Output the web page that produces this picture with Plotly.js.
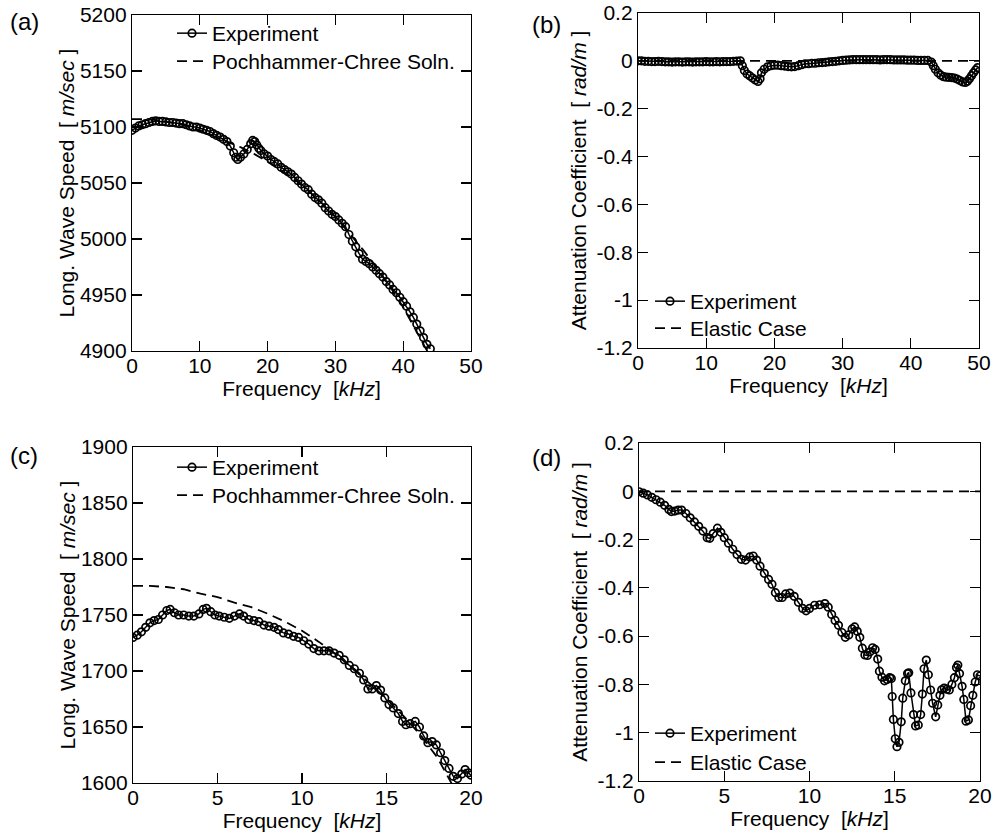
<!DOCTYPE html>
<html>
<head>
<meta charset="utf-8">
<script src="https://cdn.plot.ly/plotly-3.0.1.min.js"></script>
<style>html,body{margin:0;padding:0;background:#fff;}#chart{width:996px;height:837px;}</style>
</head>
<body>
<div id="chart"></div>
<script>
// ---------- Panel (a): steel-like bar, wave speed ----------
const aExpFreq = [0,0.5,1,1.5,2,2.5,3,3.5,4,4.5,5,5.5,6,6.5,7,7.5,8,8.5,9,9.5,10,10.5,11,11.5,12,12.5,13,13.5,14,14.5,15,15.3,15.6,16,16.5,17,17.5,17.8,18.1,18.4,18.7,19,19.5,20,20.5,21,21.5,22,22.5,23,23.5,24,24.5,25,25.5,26,26.5,27,27.5,28,28.5,29,29.5,30,30.5,31,31.5,32,32.5,33,33.5,34,34.5,35,35.5,36,36.5,37,37.5,38,38.5,39,39.5,40,40.5,41,41.5,42,42.5,43,43.5,44];
const aExpSpeed = [5097,5099,5101,5102,5103,5104,5105,5105.5,5105,5105,5104.5,5104,5104,5103.5,5103,5103,5102,5101,5100,5100,5099,5098,5097,5096,5094,5092.5,5091,5089,5087,5083,5077,5073,5071,5073,5076,5080,5085,5088,5087,5084,5081,5079,5076,5074,5071,5069,5067,5064,5062,5060,5058,5055,5052,5049,5046,5044,5040,5037,5035,5032,5028,5025,5022,5020,5017,5014,5011,5004,4998,4993,4987,4982,4980,4978,4975,4972,4969,4966,4962,4959,4955,4952,4948,4944,4940,4935,4930,4924,4918,4912,4906,4902];
const aPCFreq = [0,2,4,6,8,10,12,14,16,18,20,22,24,26,28,30,32,34,36,38,40,42,44];
const aPCSpeed = [5107,5107,5106,5104,5101,5097,5092,5087,5082,5076,5069,5061,5053,5043,5032,5020,5006,4991,4975,4958,4939,4917,4895];

// ---------- Panel (b): attenuation ----------
const bExpFreq = [0,0.5,1,1.5,2,2.5,3,3.5,4,4.5,5,5.5,6,6.5,7,7.5,8,8.5,9,9.5,10,10.5,11,11.5,12,12.5,13,13.5,14,14.5,15,15.3,15.6,16,16.4,16.8,17.2,17.6,17.9,18.1,18.5,19,19.5,20,20.5,21,21.5,22,22.5,23,23.5,24,24.5,25,25.5,26,26.5,27,27.5,28,28.5,29,29.5,30,30.5,31,31.5,32,32.5,33,33.5,34,34.5,35,35.5,36,36.5,37,37.5,38,38.5,39,39.5,40,40.5,41,41.5,42,42.5,43,43.3,43.6,44,44.4,44.8,45.2,45.6,46,46.4,46.8,47.2,47.6,48,48.3,48.6,48.9,49.2,49.5,49.8];
const bExpAtten = [0,0,-0.002,-0.002,-0.003,-0.003,-0.002,-0.003,-0.004,-0.004,-0.005,-0.004,-0.004,-0.005,-0.004,-0.004,-0.005,-0.004,-0.004,-0.004,-0.003,-0.004,-0.004,-0.003,-0.004,-0.003,-0.003,-0.003,-0.002,-0.001,0,-0.02,-0.04,-0.055,-0.063,-0.072,-0.08,-0.086,-0.075,-0.05,-0.035,-0.025,-0.02,-0.018,-0.018,-0.02,-0.022,-0.024,-0.025,-0.024,-0.02,-0.016,-0.012,-0.012,-0.01,-0.01,-0.008,-0.007,-0.006,-0.004,-0.003,-0.002,0,0.002,0.003,0.004,0.005,0.005,0.005,0.005,0.005,0.005,0.005,0.005,0.004,0.005,0.005,0.005,0.004,0.004,0.004,0.004,0.003,0.003,0.003,0.002,0.002,0.002,0.002,-0.005,-0.02,-0.035,-0.05,-0.06,-0.066,-0.068,-0.069,-0.07,-0.072,-0.076,-0.082,-0.088,-0.09,-0.085,-0.075,-0.062,-0.05,-0.038,-0.028];
const bElasticFreq = [0,50];
const bElasticAtten = [0,0];

// ---------- Panel (c): polymer bar, wave speed ----------
const cExpFreq = [0,0.25,0.5,0.75,1,1.25,1.5,1.75,2,2.2,2.45,2.7,3,3.3,3.6,3.9,4.15,4.35,4.6,4.85,5.1,5.4,5.7,6,6.3,6.55,6.85,7.15,7.45,7.75,8.05,8.35,8.6,8.9,9.2,9.5,9.8,10.1,10.4,10.7,11,11.3,11.6,11.9,12.2,12.5,12.8,13.1,13.4,13.65,13.9,14.15,14.4,14.65,14.9,15.15,15.4,15.7,15.95,16.15,16.4,16.7,16.95,17.2,17.45,17.7,17.95,18.2,18.45,18.7,18.95,19.2,19.45,19.65,19.85,20];
const cExpSpeed = [1730,1732,1735,1739,1743,1745,1746,1750,1754,1755,1752,1750,1750,1749,1749,1751,1755,1756,1753,1750,1749,1748,1747,1749,1751,1749,1746,1745,1744,1741,1740,1739,1737,1734,1733,1731,1730,1727,1724,1720,1718,1718,1718,1716,1714,1710,1705,1702,1698,1692,1684,1684,1687,1683,1676,1670,1667,1662,1655,1652,1653,1655,1650,1642,1636,1637,1634,1627,1620,1613,1606,1604,1608,1612,1609,1607];
const cPCFreq = [0,1,2,3,4,5,6,7,8,9,10,11,12,13,14,15,16,17,18,18.8,19.2];
const cPCSpeed = [1776,1776,1775,1773,1769,1766,1761,1757,1751,1744,1736,1726,1715,1702,1689,1675,1660,1643,1623,1601,1590];

// ---------- Panel (d): polymer bar, attenuation ----------
const dExpFreq = [0,0.25,0.5,0.75,1,1.25,1.5,1.75,1.9,2.1,2.3,2.5,2.75,3,3.25,3.5,3.75,4,4.15,4.35,4.6,4.8,5,5.25,5.5,5.75,6,6.25,6.5,6.7,6.9,7.1,7.35,7.6,7.8,8,8.2,8.4,8.6,8.85,9.1,9.35,9.6,9.8,10,10.3,10.6,10.9,11.1,11.3,11.5,11.7,11.9,12.1,12.3,12.5,12.65,12.8,12.95,13.1,13.25,13.4,13.55,13.7,13.85,14,14.1,14.25,14.4,14.55,14.7,14.8,14.85,14.92,15.03,15.13,15.25,15.38,15.47,15.62,15.75,15.82,15.95,16.1,16.22,16.38,16.52,16.62,16.72,16.85,16.97,17.1,17.22,17.4,17.52,17.65,17.75,17.9,18.05,18.2,18.35,18.5,18.62,18.7,18.8,18.95,19.05,19.18,19.32,19.45,19.58,19.72,19.85,20];
const dExpAtten = [-0.002,-0.008,-0.015,-0.025,-0.035,-0.045,-0.058,-0.075,-0.084,-0.082,-0.078,-0.078,-0.092,-0.11,-0.127,-0.145,-0.165,-0.192,-0.195,-0.175,-0.153,-0.17,-0.192,-0.215,-0.24,-0.262,-0.282,-0.285,-0.272,-0.268,-0.285,-0.31,-0.34,-0.365,-0.385,-0.42,-0.44,-0.44,-0.425,-0.422,-0.435,-0.46,-0.485,-0.495,-0.485,-0.472,-0.47,-0.465,-0.48,-0.51,-0.535,-0.555,-0.585,-0.605,-0.595,-0.57,-0.562,-0.58,-0.605,-0.65,-0.678,-0.68,-0.665,-0.648,-0.655,-0.695,-0.745,-0.77,-0.785,-0.78,-0.772,-0.775,-0.85,-0.945,-1.025,-1.058,-1.04,-0.955,-0.857,-0.785,-0.755,-0.752,-0.835,-0.925,-0.972,-0.968,-0.925,-0.84,-0.735,-0.699,-0.76,-0.823,-0.878,-0.934,-0.885,-0.845,-0.822,-0.815,-0.82,-0.823,-0.8,-0.772,-0.73,-0.72,-0.755,-0.808,-0.862,-0.952,-0.947,-0.888,-0.845,-0.79,-0.76,-0.765];
const dElasticFreq = [0,20];
const dElasticAtten = [0,0];

// ---------- tick labels ----------
const speedTicksA = [4900,4950,5000,5050,5100,5150,5200];
const speedTicksC = [1600,1650,1700,1750,1800,1850,1900];
const attenTickVals = [-1.2,-1,-0.8,-0.6,-0.4,-0.2,0,0.2];
const attenTickText = ['-1.2','-1','-0.8','-0.6','-0.4','-0.2','0','0.2'];
const freqTicks50 = [0,10,20,30,40,50];
const freqTicks20 = [0,5,10,15,20];

const legendExp = 'Experiment';
const legendPC = 'Pochhammer-Chree Soln.';
const legendElastic = 'Elastic Case';
const panelLabels = ['(a)','(b)','(c)','(d)'];

const FONT = 'Liberation Sans, Arial, Helvetica, sans-serif';
const FS = 21;
const NB = '\u00a0';

function expTrace(x, y, xa, ya, leg) {
  return {x: x, y: y, xaxis: xa, yaxis: ya, type: 'scatter', mode: 'lines+markers',
    name: legendExp, legend: leg,
    line: {color: '#000', width: 1.5},
    marker: {symbol: 'circle-open', size: 7.5, color: '#000', line: {width: 1.7, color: '#000'}}};
}
function dashTrace(x, y, xa, ya, leg, name) {
  return {x: x, y: y, xaxis: xa, yaxis: ya, type: 'scatter', mode: 'lines',
    name: name, legend: leg, line: {color: '#000', width: 1.8, dash: '10px,6px'}};
}

const traces = [
  expTrace(aExpFreq, aExpSpeed, 'x', 'y', 'legend'),
  dashTrace(aPCFreq, aPCSpeed, 'x', 'y', 'legend5', legendPC),
  expTrace(bExpFreq, bExpAtten, 'x2', 'y2', 'legend2'),
  dashTrace(bElasticFreq, bElasticAtten, 'x2', 'y2', 'legend6', legendElastic),
  expTrace(cExpFreq, cExpSpeed, 'x3', 'y3', 'legend3'),
  dashTrace(cPCFreq, cPCSpeed, 'x3', 'y3', 'legend7', legendPC),
  expTrace(dExpFreq, dExpAtten, 'x4', 'y4', 'legend4'),
  dashTrace(dElasticFreq, dElasticAtten, 'x4', 'y4', 'legend8', legendElastic)
];

const W = 996, H = 837;
function dx(a, b) { return [a / W, b / W]; }
function dy(top, bot) { return [1 - bot / H, 1 - top / H]; }

const axBase = {
  showline: true, linecolor: '#000', linewidth: 1.2, mirror: 'ticks',
  ticks: 'inside', ticklen: 10, tickwidth: 1.2, tickcolor: '#000',
  showgrid: false, zeroline: false, fixedrange: true, ticklabeloverflow: 'allow',
  tickfont: {family: FONT, size: FS, color: '#000'}, automargin: false
};
function xax(domain, range, tv, anchor) {
  return Object.assign({}, axBase, {domain: domain, range: range, anchor: anchor,
    tickmode: 'array', tickvals: tv, ticktext: tv.map(String), ticklabelstandoff: -4,
    title: {text: 'Frequency' + NB + NB + '[<i>kHz</i>]', font: {family: FONT, size: FS, color: '#000'}, standoff: 0}});
}
function yax(domain, range, tv, tt, anchor, title) {
  return Object.assign({}, axBase, {domain: domain, range: range, anchor: anchor,
    tickmode: 'array', tickvals: tv, ticktext: tt,
    title: {text: title, font: {family: FONT, size: FS, color: '#000'}}});
}
const speedTitle = 'Long. Wave Speed' + NB + NB + '[' + NB + '<i>m/sec</i>' + NB + ']';
const attenTitle = 'Attenuation Coefficient' + NB + NB + '[' + NB + '<i>rad/m</i>' + NB + ']';

function legendAt(px, py) {
  return {x: px / W, y: 1 - py / H, xanchor: 'left', yanchor: 'top',
    bgcolor: 'rgba(0,0,0,0)', borderwidth: 0,
    font: {family: FONT, size: FS, color: '#000'}, itemclick: false, itemdoubleclick: false,
    tracegroupgap: 0};
}

const layout = {
  width: W, height: H, margin: {l: 0, r: 0, t: 0, b: 0},
  paper_bgcolor: '#fff', plot_bgcolor: '#fff', showlegend: true,
  font: {family: FONT, size: FS, color: '#000'},
  xaxis: xax(dx(132, 471), [0, 50], freqTicks50, 'y'),
  yaxis: yax(dy(15, 351), [4900, 5200], speedTicksA, speedTicksA.map(String), 'x', speedTitle),
  xaxis2: xax(dx(638, 979), [0, 50], freqTicks50, 'y2'),
  yaxis2: yax(dy(13, 348), [-1.2, 0.2], attenTickVals, attenTickText, 'x2', attenTitle),
  xaxis3: xax(dx(133, 471), [0, 20], freqTicks20, 'y3'),
  yaxis3: yax(dy(447, 783), [1600, 1900], speedTicksC, speedTicksC.map(String), 'x3', speedTitle),
  xaxis4: xax(dx(639, 980), [0, 20], freqTicks20, 'y4'),
  yaxis4: yax(dy(443, 781), [-1.2, 0.2], attenTickVals, attenTickText, 'x4', attenTitle),
  legend: legendAt(172, 13),
  legend5: legendAt(172, 41),
  legend2: legendAt(650, 281),
  legend6: legendAt(650, 308),
  legend3: legendAt(172, 447),
  legend7: legendAt(172, 475),
  legend4: legendAt(650, 713),
  legend8: legendAt(650, 742),
  annotations: [
    {text: panelLabels[0], x: 8 / W, y: 1 - 22 / H},
    {text: panelLabels[1], x: 530 / W, y: 1 - 25 / H},
    {text: panelLabels[2], x: 8 / W, y: 1 - 455 / H},
    {text: panelLabels[3], x: 530 / W, y: 1 - 457 / H}
  ].map(a => Object.assign(a, {xref: 'paper', yref: 'paper', xanchor: 'left', yanchor: 'middle',
    showarrow: false, font: {family: FONT, size: 24, color: '#000'}}))
};

Plotly.newPlot('chart', traces, layout, {staticPlot: true, displayModeBar: false});
</script>
</body>
</html>
